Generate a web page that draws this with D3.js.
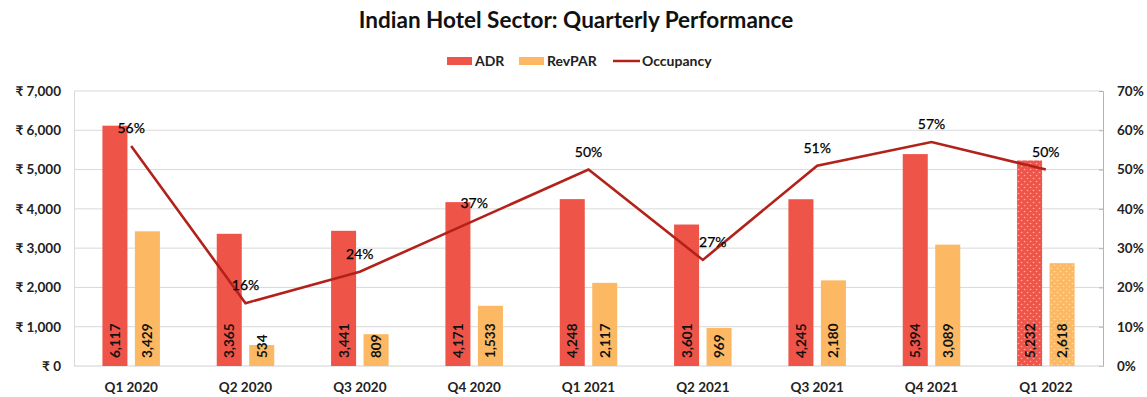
<!DOCTYPE html>
<html>
<head>
<meta charset="utf-8">
<script src="https://cdn.jsdelivr.net/npm/d3@7"></script>
<style>
  body { margin: 0; background: #fff; }
  svg { font-family: Lato, "Noto Sans", "DejaVu Sans", sans-serif; }
</style>
</head>
<body>
<svg id="chart" width="1147" height="397"></svg>
<script>
// Quarterly figures for the Indian hotel sector
const quarters = ["Q1 2020", "Q2 2020", "Q3 2020", "Q4 2020", "Q1 2021", "Q2 2021", "Q3 2021", "Q4 2021", "Q1 2022"];
const adr = [6117, 3365, 3441, 4171, 4248, 3601, 4245, 5394, 5232];          // average daily rate, ₹
const revpar = [3429, 534, 809, 1533, 2117, 969, 2180, 3089, 2618];          // revenue per available room, ₹
const occupancy = [56, 16, 24, 37, 50, 27, 51, 57, 50];                      // %
const rupeeTicks = [0, 1000, 2000, 3000, 4000, 5000, 6000, 7000];
const percentTicks = [0, 10, 20, 30, 40, 50, 60, 70];
const estimatedQuarter = "Q1 2022";   // shown with dotted fill
const seriesNames = ["ADR", "RevPAR", "Occupancy"];

const COLORS = { ADR: "#EF5449", RevPAR: "#FCB862", Occupancy: "#B3221A" };
const FONT = "Lato, 'Noto Sans', 'DejaVu Sans', sans-serif";

const svg = d3.select("#chart");
const plot = { left: 74, right: 1103, top: 91, bottom: 366 };

const x = d3.scaleBand().domain(quarters).range([plot.left, plot.right])
  .paddingInner(0.497).paddingOuter(0.2485);
const xs = d3.scaleBand().domain(["ADR", "RevPAR"]).range([0, x.bandwidth()]).paddingInner(0.23);
const y = d3.scaleLinear().domain([0, 7000]).range([plot.bottom, plot.top]);
const y2 = d3.scaleLinear().domain([0, 70]).range([plot.bottom, plot.top]);

// dotted fills for the estimated quarter
const defs = svg.append("defs");
["ADR", "RevPAR"].forEach(k => {
  const p = defs.append("pattern").attr("id", "dots-" + k)
    .attr("width", 6).attr("height", 6).attr("patternUnits", "userSpaceOnUse");
  p.append("rect").attr("width", 6).attr("height", 6).attr("fill", COLORS[k]);
  [[1.5, 1.5], [4.5, 4.5]].forEach(([cx, cy]) =>
    p.append("circle").attr("cx", cx).attr("cy", cy).attr("r", 0.8)
      .attr("fill", "#fff").attr("opacity", 0.55));
});

// title
svg.append("text").attr("x", 576).attr("y", 28).attr("text-anchor", "middle")
  .attr("font-size", 22.5).attr("font-weight", 700).attr("fill", "#111")
  .text("Indian Hotel Sector: Quarterly Performance");

// legend
const legend = svg.append("g").attr("font-size", 14).attr("font-weight", 700).attr("fill", "#222");
const legendX = [447, 519, 613];
seriesNames.forEach((name, i) => {
  const g = legend.append("g").attr("transform", `translate(${legendX[i]},0)`);
  if (name === "Occupancy") {
    g.append("line").attr("x1", 0).attr("x2", 27).attr("y1", 61).attr("y2", 61)
      .attr("stroke", COLORS[name]).attr("stroke-width", 2.5);
  } else {
    g.append("rect").attr("x", 0).attr("y", 57).attr("width", 25).attr("height", 8).attr("fill", COLORS[name]);
  }
  g.append("text").attr("x", name === "Occupancy" ? 29 : 28).attr("y", 66).text(name);
});

// gridlines
svg.append("g").selectAll("line").data(rupeeTicks.filter(d => d > 0)).join("line")
  .attr("x1", plot.left).attr("x2", plot.right)
  .attr("y1", d => y(d)).attr("y2", d => y(d))
  .attr("stroke", "#d9d9d9").attr("stroke-width", 1);

// left axis
const yAxis = svg.append("g").attr("transform", `translate(${plot.left},0)`)
  .call(d3.axisLeft(y).tickValues(rupeeTicks).tickSize(0).tickPadding(13)
    .tickFormat(d => "₹ " + d3.format(",")(d)));
yAxis.select(".domain").attr("stroke", "#d9d9d9");
yAxis.selectAll("text").attr("font-size", 13.5).attr("font-weight", 700).attr("fill", "#222")
  .attr("font-family", FONT);

// right axis
const y2Axis = svg.append("g").attr("transform", `translate(${plot.right},0)`)
  .call(d3.axisRight(y2).tickValues(percentTicks).tickSizeInner(-4).tickSizeOuter(-4).tickPadding(14)
    .tickFormat(d => d + "%"));
y2Axis.selectAll("path,line").attr("stroke", "#b4b4b4");
y2Axis.selectAll("text").attr("font-size", 13.5).attr("font-weight", 700).attr("fill", "#222")
  .attr("font-family", FONT);

// bottom axis
const xAxis = svg.append("g").attr("transform", `translate(0,${plot.bottom})`)
  .call(d3.axisBottom(x).tickSize(0).tickPadding(16));
xAxis.select(".domain").attr("stroke", "#d0d0d0").attr("d", `M${plot.left},0H${plot.right}`);
xAxis.selectAll("text").attr("font-size", 13.5).attr("font-weight", 700).attr("fill", "#222")
  .attr("font-family", FONT);

// bars
const rows = quarters.map((q, i) => ({ q, ADR: adr[i], RevPAR: revpar[i] }));
const groups = svg.append("g").selectAll("g").data(rows).join("g")
  .attr("transform", d => `translate(${x(d.q)},0)`);
const cells = groups.selectAll("g").data(d => ["ADR", "RevPAR"].map(k => ({ k, v: d[k], q: d.q }))).join("g");
cells.append("rect")
  .attr("x", d => xs(d.k)).attr("width", xs.bandwidth())
  .attr("y", d => y(d.v)).attr("height", d => y(0) - y(d.v))
  .attr("fill", d => d.q === estimatedQuarter ? `url(#dots-${d.k})` : COLORS[d.k]);
cells.append("text")
  .attr("transform", d => `translate(${xs(d.k) + xs.bandwidth() / 2 + 5},${y(0) - 8}) rotate(-90)`)
  .attr("font-size", 13.5).attr("font-weight", 700).attr("fill", "#111")
  .text(d => d3.format(",")(d.v));

// occupancy line
const pts = quarters.map((q, i) => ({ q, v: occupancy[i] }));
const cx = d => x(d.q) + x.bandwidth() / 2;
svg.append("path").datum(pts)
  .attr("fill", "none").attr("stroke", COLORS.Occupancy).attr("stroke-width", 2.6)
  .attr("stroke-linejoin", "miter")
  .attr("d", d3.line().x(cx).y(d => y2(d.v)));

const labelNudge = { "Q2 2021": 10 };
svg.append("g").selectAll("text").data(pts).join("text")
  .attr("x", d => cx(d) + (labelNudge[d.q] || 0))
  .attr("y", d => y2(d.v) - 13)
  .attr("text-anchor", "middle").attr("font-size", 14).attr("fill", "#000")
  .attr("stroke", "#000").attr("stroke-width", 0.25)
  .text(d => d.v + "%");
</script>
</body>
</html>
